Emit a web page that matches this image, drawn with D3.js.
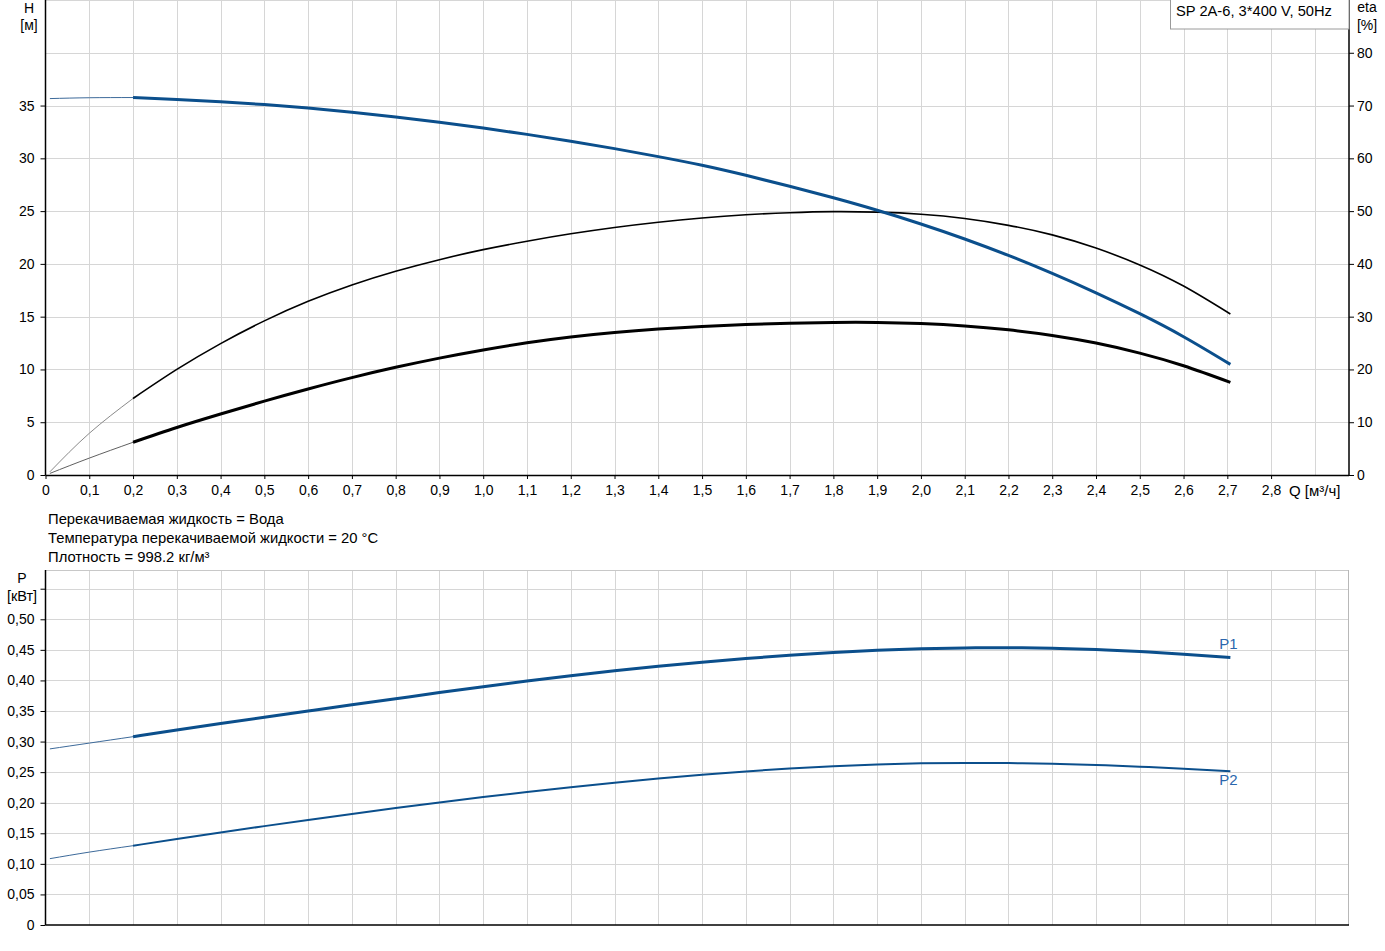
<!DOCTYPE html>
<html><head><meta charset="utf-8">
<script src="https://cdn.jsdelivr.net/npm/d3@7"></script>
<style>
html,body{margin:0;padding:0;background:#fff;}
svg{display:block;font-family:"Liberation Sans",Arial,sans-serif;}
</style></head>
<body>
<svg id="c" width="1385" height="951"></svg>
<script>
// ---------- data ----------
const flowQ      = [0.2,0.3,0.4,0.5,0.6,0.7,0.8,0.9,1.0,1.1,1.2,1.3,1.4,1.5,1.6,1.7,1.8,1.9,2.0,2.1,2.2,2.3,2.4,2.5,2.6,2.707];
const headH      = [35.76,35.58,35.36,35.09,34.76,34.37,33.92,33.42,32.87,32.27,31.62,30.92,30.16,29.34,28.39,27.36,26.26,25.08,23.78,22.36,20.8,19.1,17.26,15.28,13.1,10.48];
const etaPump    = [14.5,20.0,24.9,29.2,32.9,36.0,38.6,40.8,42.7,44.3,45.7,46.9,47.9,48.7,49.3,49.7,49.9,49.8,49.4,48.6,47.3,45.5,43.0,39.8,35.8,30.5];
const etaTotal   = [6.2,9.0,11.55,14.0,16.3,18.45,20.4,22.15,23.7,25.05,26.15,27.0,27.65,28.15,28.5,28.75,28.9,28.9,28.7,28.25,27.5,26.45,25.0,23.1,20.7,17.55];
const powerP1    = [0.308,0.3188,0.3294,0.3398,0.35,0.3601,0.3701,0.3801,0.3897,0.3989,0.4076,0.4157,0.4231,0.4298,0.4358,0.4411,0.4457,0.4493,0.4518,0.4532,0.4535,0.4526,0.4505,0.4472,0.4428,0.4374];
const powerP2    = [0.1297,0.1406,0.1513,0.1617,0.1718,0.1817,0.1913,0.2005,0.2093,0.2176,0.2254,0.2327,0.2395,0.2457,0.2512,0.2559,0.2597,0.2626,0.2644,0.2651,0.2648,0.2636,0.2616,0.259,0.2557,0.2516];
// thin extensions below the operating range
const extQ       = [0.01,0.1,0.2];
const extH       = [35.66,35.74,35.76];
const extEtaPump = [0.6,7.9,14.5];
const extEtaTot  = [0.3,3.2,6.2];
const extP1      = [0.288,0.2975,0.308];
const extP2      = [0.1085,0.1192,0.1297];

const qTicks      = [0,0.1,0.2,0.3,0.4,0.5,0.6,0.7,0.8,0.9,1.0,1.1,1.2,1.3,1.4,1.5,1.6,1.7,1.8,1.9,2.0,2.1,2.2,2.3,2.4,2.5,2.6,2.7,2.8];
const qTickLabels = ["0","0,1","0,2","0,3","0,4","0,5","0,6","0,7","0,8","0,9","1,0","1,1","1,2","1,3","1,4","1,5","1,6","1,7","1,8","1,9","2,0","2,1","2,2","2,3","2,4","2,5","2,6","2,7","2,8"];
const hTicks      = [0,5,10,15,20,25,30,35];
const etaTicks    = [0,10,20,30,40,50,60,70,80];
const pTicks      = [0,0.05,0.1,0.15,0.2,0.25,0.3,0.35,0.4,0.45,0.5,0.55];
const pTickLabels = ["0","0,05","0,10","0,15","0,20","0,25","0,30","0,35","0,40","0,45","0,50",""];
const infoLines   = ["Перекачиваемая жидкость = Вода","Температура перекачиваемой жидкости = 20 °C","Плотность = 998.2 кг/м³"];
const legendText  = "SP 2A-6, 3*400 V, 50Hz";

// ---------- layout ----------
const svg = d3.select("#c");
const L = 45.5, R = 1349;
const topT = 0, topB = 475, botT = 570, botB = 925;
const BLUE = "#0b4f8c", GRID = "#d6d6d6", LBLUE = "#2a66ad";
const FS = 14;

const x = d3.scaleLinear().domain([0, 2.978]).range([L, R]);
const yH = d3.scaleLinear().domain([0, 45]).range([topB, topT]);
const yEta = d3.scaleLinear().domain([0, 90]).range([topB, topT]);
const yP = d3.scaleLinear().domain([0, 0.5806]).range([botB, botT]);

const crisp = v => Math.round(v) + 0.5;
const gridQ = d3.range(1, 30).map(i => i / 10);

function grid(yScale, yVals, y0, y1) {
  const g = svg.append("g");
  g.selectAll(".v").data(gridQ).join("line")
    .attr("x1", d => crisp(x(d))).attr("x2", d => crisp(x(d)))
    .attr("y1", y0).attr("y2", y1).attr("stroke", GRID).attr("stroke-width", 1);
  g.selectAll(".h").data(yVals).join("line")
    .attr("x1", L).attr("x2", R)
    .attr("y1", d => crisp(yScale(d))).attr("y2", d => crisp(yScale(d)))
    .attr("stroke", GRID).attr("stroke-width", 1);
  return g;
}
grid(yH, [5,10,15,20,25,30,35,40,45], topT, topB);
grid(yP, [0.05,0.1,0.15,0.2,0.25,0.3,0.35,0.4,0.45,0.5,0.55], botT, botB);
svg.append("line").attr("x1", L).attr("x2", R).attr("y1", 0.5).attr("y2", 0.5).attr("stroke", GRID);
svg.append("line").attr("x1", L).attr("x2", R).attr("y1", botT + 0.5).attr("y2", botT + 0.5).attr("stroke", "#c8c8c8");
svg.append("line").attr("x1", R - 0.5).attr("x2", R - 0.5).attr("y1", botT).attr("y2", botB).attr("stroke", "#b8b8b8");

// ---------- axes ----------
function styleAxis(g, w) {
  g.selectAll("path.domain").attr("stroke", "#000").attr("stroke-width", w || 1.5);
  g.selectAll(".tick line").attr("stroke", "#000");
  g.selectAll("text").attr("font-size", FS).attr("fill", "#000")
    .attr("font-family", "'Liberation Sans',Arial,sans-serif");
}
const xAxisTop = svg.append("g").attr("transform", `translate(0,${topB})`)
  .call(d3.axisBottom(x).tickValues(qTicks).tickSize(4).tickSizeOuter(0).tickPadding(6)
    .tickFormat((d, i) => qTickLabels[i]));
styleAxis(xAxisTop, 1.5);
xAxisTop.select("path.domain").attr("d", `M${L},0.5H${R}`);

const leftAxis = svg.append("g").attr("transform", `translate(${L},0)`)
  .call(d3.axisLeft(yH).tickValues(hTicks).tickSize(5).tickSizeOuter(0).tickPadding(6));
styleAxis(leftAxis, 1.5);
leftAxis.select("path.domain").attr("d", `M0,${topT}V${topB}`);

const rightAxis = svg.append("g").attr("transform", `translate(${R},0)`)
  .call(d3.axisRight(yEta).tickValues(etaTicks).tickSize(5).tickSizeOuter(0).tickPadding(3));
styleAxis(rightAxis, 1.5);
rightAxis.select("path.domain").attr("d", `M0,${topT}V${topB}`);

const xAxisBot = svg.append("g").attr("transform", `translate(0,${botB})`)
  .call(d3.axisBottom(x).tickValues([]).tickSizeOuter(0));
styleAxis(xAxisBot, 1.5);
xAxisBot.select("path.domain").attr("d", `M${L},0H${R}`);

const pAxis = svg.append("g").attr("transform", `translate(${L},0)`)
  .call(d3.axisLeft(yP).tickValues(pTicks).tickSize(5).tickSizeOuter(0).tickPadding(6)
    .tickFormat((d, i) => pTickLabels[i]));
styleAxis(pAxis, 1.5);
pAxis.select("path.domain").attr("d", `M0,${botT}V${botB}`);

// ---------- axis titles ----------
function txt(s, tx, ty, anchor, fill, size) {
  svg.append("text").attr("x", tx).attr("y", ty).attr("text-anchor", anchor || "start")
    .attr("font-size", size || FS).attr("fill", fill || "#000").text(s);
}
txt("H", 29, 13, "middle");
txt("[м]", 29, 30, "middle");
txt("eta", 1367, 12, "middle");
txt("[%]", 1367, 30, "middle");
txt("Q [м³/ч]", 1289, 495.5, "start", "#000", 15);
txt("P", 22, 583, "middle");
txt("[кВт]", 22, 601, "middle", "#000", 14.5);
infoLines.forEach((s, i) => txt(s, 48, 524 + i * 19, "start", "#000", 14.8));

// legend box
svg.append("rect").attr("x", 1170.5).attr("y", -1).attr("width", R - 1170.5).attr("height", 30)
  .attr("fill", "#fff").attr("stroke", "#9a9a9a").attr("stroke-width", 1);
txt(legendText, 1176, 16, "start", "#000", 14.7);

// ---------- curves ----------
function curve(qs, vs, yScale, color, width) {
  const pts = qs.map((q, i) => [q, vs[i]]);
  svg.append("path").datum(pts)
    .attr("d", d3.line().x(d => x(d[0])).y(d => yScale(d[1])).curve(d3.curveNatural))
    .attr("fill", "none").attr("stroke", color).attr("stroke-width", width)
    .attr("stroke-linejoin", "round");
}
curve(extQ, extH, yH, "#3d6a9a", 1);
curve(extQ, extEtaPump, yEta, "#8a8a8a", 1);
curve(extQ, extEtaTot, yEta, "#606060", 1);
curve(extQ, extP1, yP, "#3d6a9a", 1);
curve(extQ, extP2, yP, "#3d6a9a", 1);

curve(flowQ, etaPump, yEta, "#000", 1.6);
curve(flowQ, etaTotal, yEta, "#000", 3);
curve(flowQ, headH, yH, BLUE, 3);
curve(flowQ, powerP1, yP, BLUE, 3);
curve(flowQ, powerP2, yP, BLUE, 2);

const lastQ = flowQ[flowQ.length - 1];
txt("P1", x(lastQ) - 2, yP(powerP1[powerP1.length - 1]) - 9, "middle", LBLUE, 15);
txt("P2", x(lastQ) - 2, yP(powerP2[powerP2.length - 1]) + 14, "middle", LBLUE, 15);
</script>
</body></html>
